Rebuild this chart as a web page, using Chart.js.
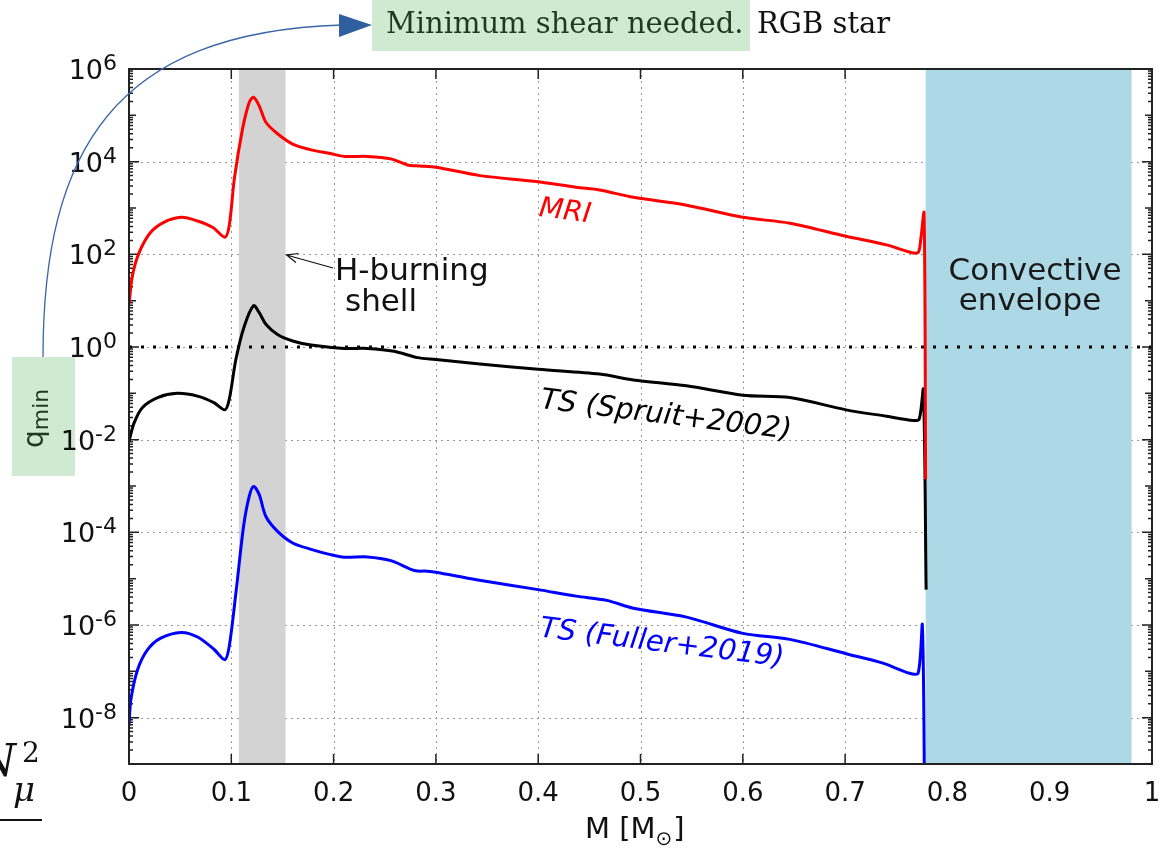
<!DOCTYPE html>
<html lang="en">
<head>
<meta charset="UTF-8" />
<title>Minimum shear needed - RGB star</title>
<script src="https://cdn.jsdelivr.net/npm/chart.js"></script>
<style>
  body { margin: 0; background: #fff; }
  canvas { display: block; }
</style>
</head>
<body>
<canvas id="chart" width="1168" height="850"></canvas>
<script>
// mass coordinate M [Msun] and q for each instability
const mriM = [0, 0.0034, 0.01, 0.021, 0.034, 0.051, 0.067, 0.082, 0.0937, 0.098, 0.103, 0.111, 0.1175, 0.1218,
  0.1273, 0.1338, 0.1452, 0.160, 0.178, 0.197, 0.2105, 0.233, 0.256, 0.272, 0.284, 0.300, 0.343, 0.400, 0.437,
  0.460, 0.493, 0.545, 0.600, 0.646, 0.701, 0.7405, 0.763, 0.7714, 0.774, 0.7772, 0.7787];
const mriQ = [8.3, 35, 110, 295, 490, 630, 525, 380, 235, 420, 4300, 5.1e4, 1.9e5, 2.45e5,
  1.6e5, 7.1e4, 4.0e4, 2.4e4, 1.8e4, 1.5e4, 1.3e4, 1.3e4, 1.15e4, 8500, 8100, 7600, 5000, 3700, 2800,
  2450, 1700, 1150, 630, 470, 245, 160, 112, 110, 215, 780, 1.4e-3];

const spruitM = [0, 0.005, 0.013, 0.028, 0.047, 0.067, 0.083, 0.0937, 0.098, 0.1045, 0.1127, 0.1218, 0.1273,
  0.1338, 0.1452, 0.160, 0.178, 0.2105, 0.233, 0.259, 0.282, 0.300, 0.343, 0.400, 0.460, 0.493, 0.545,
  0.600, 0.646, 0.701, 0.7405, 0.7665, 0.7725, 0.7765, 0.7792];
const spruitQ = [0.0093, 0.023, 0.049, 0.081, 0.1, 0.087, 0.063, 0.044, 0.074, 0.54, 2.8, 7.8, 5.5,
  3.1, 1.86, 1.35, 1.1, 0.93, 0.93, 0.81, 0.59, 0.54, 0.43, 0.33, 0.26, 0.195, 0.145,
  0.091, 0.081, 0.044, 0.032, 0.026, 0.028, 0.12, 5.8e-6];

const fullerM = [0, 0.0018, 0.0083, 0.018, 0.031, 0.051, 0.067, 0.083, 0.0937, 0.098, 0.1045, 0.112, 0.1175,
  0.1218, 0.1273, 0.1338, 0.1452, 0.160, 0.178, 0.197, 0.2105, 0.233, 0.256, 0.279, 0.292, 0.300, 0.3396,
  0.400, 0.437, 0.467, 0.493, 0.545, 0.600, 0.646, 0.701, 0.737, 0.763, 0.7714, 0.7755, 0.7778];
const fullerQ = [6.9e-9, 2.4e-8, 1.07e-7, 2.9e-7, 5.2e-7, 6.9e-7, 5.5e-7, 3.0e-7, 1.78e-7, 3.5e-7, 4.9e-6, 1.35e-4, 6.0e-4,
  9.8e-4, 6.5e-4, 2.2e-4, 1.05e-4, 5.9e-5, 4.3e-5, 3.3e-5, 2.9e-5, 2.95e-5, 2.45e-5, 1.5e-5, 1.45e-5, 1.38e-5, 9.5e-6,
  5.8e-6, 4.2e-6, 3.4e-6, 2.3e-6, 1.48e-6, 6.6e-7, 4.9e-7, 2.4e-7, 1.5e-7, 9.1e-8, 9.1e-8, 1.0e-6, 1e-10];

const qminM = [0, 1];
const qminQ = [1, 1];

const xTicks = [0, 0.1, 0.2, 0.3, 0.4, 0.5, 0.6, 0.7, 0.8, 0.9, 1];
const xTickLabels = ['0', '0.1', '0.2', '0.3', '0.4', '0.5', '0.6', '0.7', '0.8', '0.9', '1'];
const yExponents = [-8, -6, -4, -2, 0, 2, 4, 6];
const shellBand = [0.1074, 0.153];
const envelopeBand = [0.7787, 0.980];

function pts(xs, ys) {
  return xs.map((x, i) => ({ x: x, y: ys[i] }));
}

const SANS = '"DejaVu Sans", sans-serif';
const SERIF = '"DejaVu Serif", serif';
const GREEN_BOX = '#d0ead2';
const GREEN_TEXT = '#1d3b1f';

function rotText(ctx, text, cx, cy, deg, font, color) {
  ctx.save();
  ctx.translate(cx, cy);
  ctx.rotate(deg * Math.PI / 180);
  ctx.font = font;
  ctx.fillStyle = color;
  ctx.textAlign = 'center';
  ctx.textBaseline = 'middle';
  ctx.fillText(text, 0, 0);
  ctx.restore();
}

const decor = {
  id: 'decor',
  beforeDraw(chart) {
    // green boxes sit under everything else
    const ctx = chart.ctx;
    ctx.save();
    ctx.fillStyle = GREEN_BOX;
    ctx.fillRect(372, 0, 378, 51);
    ctx.fillRect(12, 357, 63, 119);
    ctx.restore();
  },
  beforeDatasetsDraw(chart) {
    const { ctx, chartArea: a, scales: { x, y } } = chart;
    ctx.save();
    // dotted grid
    ctx.strokeStyle = '#999';
    ctx.lineWidth = 1;
    ctx.setLineDash([2, 4]);
    xTicks.slice(1, -1).forEach(t => {
      const px = Math.round(x.getPixelForValue(t)) + 0.5;
      ctx.beginPath(); ctx.moveTo(px, a.top); ctx.lineTo(px, a.bottom); ctx.stroke();
    });
    yExponents.slice(0, -1).forEach(e => {
      const py = Math.round(y.getPixelForValue(Math.pow(10, e))) + 0.5;
      ctx.beginPath(); ctx.moveTo(a.left, py); ctx.lineTo(a.right, py); ctx.stroke();
    });
    ctx.setLineDash([]);
    // inward tick marks
    ctx.strokeStyle = '#222';
    ctx.lineWidth = 1.5;
    xTicks.forEach(t => {
      const px = x.getPixelForValue(t);
      ctx.beginPath();
      ctx.moveTo(px, a.bottom); ctx.lineTo(px, a.bottom - 10);
      ctx.moveTo(px, a.top); ctx.lineTo(px, a.top + 10);
      ctx.stroke();
    });
    for (let e = -9; e <= 5; e++) {
      for (let k = 1; k <= 9; k++) {
        const v = k * Math.pow(10, e);
        if (v < 1e-9 || v > 1e6) continue;
        const py = y.getPixelForValue(v);
        const len = k === 1 ? (e % 2 === 0 ? 10 : 7) : 4;
        ctx.beginPath();
        ctx.moveTo(a.left, py); ctx.lineTo(a.left + len, py);
        ctx.moveTo(a.right, py); ctx.lineTo(a.right - len, py);
        ctx.stroke();
      }
    }
    // shaded regions
    ctx.fillStyle = '#d3d3d3';
    const s0 = x.getPixelForValue(shellBand[0]), s1 = x.getPixelForValue(shellBand[1]);
    ctx.fillRect(s0, a.top, s1 - s0, a.bottom - a.top);
    ctx.fillStyle = '#add8e6';
    const e0 = x.getPixelForValue(envelopeBand[0]), e1 = x.getPixelForValue(envelopeBand[1]);
    ctx.fillRect(e0, a.top, e1 - e0, a.bottom - a.top);
    ctx.restore();
  },
  afterDatasetsDraw(chart) {
    const { ctx, chartArea: a, scales: { x, y } } = chart;
    ctx.save();
    // frame
    ctx.strokeStyle = '#222';
    ctx.lineWidth = 2;
    ctx.strokeRect(a.left, a.top, a.right - a.left, a.bottom - a.top);

    // y tick labels 10^n
    ctx.fillStyle = '#111';
    ctx.textBaseline = 'alphabetic';
    ctx.textAlign = 'right';
    yExponents.forEach(e => {
      const py = y.getPixelForValue(Math.pow(10, e));
      ctx.font = '22px ' + SANS;
      const sup = String(e);
      ctx.fillText(sup, 117, py + 1);
      const w = ctx.measureText(sup).width;
      ctx.font = '27px ' + SANS;
      ctx.fillText('10', 117 - w, py + 10);
    });
    // x tick labels
    ctx.textAlign = 'center';
    ctx.font = '26px ' + SANS;
    xTicks.forEach((t, i) => {
      ctx.fillText(xTickLabels[i], x.getPixelForValue(t), a.bottom + 37);
    });
    // x title M [M_sun]
    ctx.textAlign = 'left';
    ctx.font = '29px ' + SANS;
    let tx = 585;
    ctx.fillText('M [M', tx, 838);
    tx += ctx.measureText('M [M').width;
    ctx.font = '20px ' + SANS;
    ctx.fillText('\u2299', tx, 845);
    tx += ctx.measureText('\u2299').width + 1;
    ctx.font = '29px ' + SANS;
    ctx.fillText(']', tx, 838);

    // curve labels
    rotText(ctx, 'MRI', 565, 212, 7, 'italic 28px ' + SANS, '#ff0000');
    rotText(ctx, 'TS (Spruit+2002)', 666, 416, 7, 'italic 29px ' + SANS, '#000');
    rotText(ctx, 'TS (Fuller+2019)', 662, 644, 7, 'italic 29px ' + SANS, '#0000ff');

    // H-burning shell note with arrow
    ctx.fillStyle = '#111';
    ctx.font = '31px ' + SANS;
    ctx.textAlign = 'left';
    ctx.fillText('H-burning', 335, 280);
    ctx.fillText('shell', 345, 311);
    ctx.strokeStyle = '#111';
    ctx.lineWidth = 1.2;
    const tipX = x.getPixelForValue(shellBand[1]) + 1, tipY = 255;
    const ang = Math.atan2(tipY - 268, tipX - 333);
    ctx.beginPath();
    ctx.moveTo(333, 268); ctx.lineTo(tipX, tipY);
    ctx.moveTo(tipX - 12 * Math.cos(ang - 0.4), tipY - 12 * Math.sin(ang - 0.4));
    ctx.lineTo(tipX, tipY);
    ctx.lineTo(tipX - 12 * Math.cos(ang + 0.4), tipY - 12 * Math.sin(ang + 0.4));
    ctx.stroke();

    // convective envelope
    ctx.textAlign = 'center';
    ctx.fillStyle = '#1a1a1a';
    ctx.fillText('Convective', 1035, 280);
    ctx.fillText('envelope', 1030, 310);
    ctx.restore();
  },
  afterDraw(chart) {
    const ctx = chart.ctx;
    ctx.save();
    ctx.font = '29px ' + SERIF;
    ctx.textAlign = 'left';
    ctx.textBaseline = 'alphabetic';
    ctx.fillStyle = GREEN_TEXT;
    ctx.fillText('Minimum shear needed.', 386, 33);
    ctx.fillStyle = '#111';
    ctx.fillText('RGB star', 757, 33);

    // q_min, rotated
    ctx.save();
    ctx.translate(43, 448);
    ctx.rotate(-Math.PI / 2);
    ctx.fillStyle = GREEN_TEXT;
    ctx.font = '28px ' + SANS;
    ctx.fillText('q', 0, 0);
    const qw = ctx.measureText('q').width;
    ctx.font = '22px ' + SANS;
    ctx.fillText('min', qw, 5);
    ctx.restore();

    // curved arrow from q_min to the title box
    ctx.strokeStyle = '#3a67a8';
    ctx.lineWidth = 1.3;
    ctx.beginPath();
    ctx.moveTo(43, 357);
    ctx.bezierCurveTo(43, 150, 115, 32, 342, 25);
    ctx.stroke();
    ctx.fillStyle = '#2f5f9e';
    ctx.beginPath();
    ctx.moveTo(372, 25); ctx.lineTo(339, 14); ctx.lineTo(339, 37); ctx.closePath();
    ctx.fill();

    // N_mu^2 fragment at the bottom left
    ctx.fillStyle = '#111';
    ctx.textAlign = 'right';
    ctx.font = 'italic 44px ' + SERIF;
    ctx.fillText('N', 16, 776);
    ctx.textAlign = 'left';
    ctx.font = '28px ' + SERIF;
    ctx.fillText('2', 22, 762);
    ctx.font = 'italic 34px ' + SERIF;
    ctx.fillText('\u03bc', 13, 801);
    ctx.fillRect(0, 819, 42, 2);
    ctx.restore();
  }
};

new Chart(document.getElementById('chart').getContext('2d'), {
  type: 'line',
  data: {
    datasets: [
      { label: 'MRI', data: pts(mriM, mriQ), borderColor: '#ff0000', order: 0 },
      { label: 'TS (Spruit+2002)', data: pts(spruitM, spruitQ), borderColor: '#000000', order: 1 },
      { label: 'TS (Fuller+2019)', data: pts(fullerM, fullerQ), borderColor: '#0000ff', order: 2 },
      { label: 'q_min', data: pts(qminM, qminQ), borderColor: '#000000', borderDash: [3, 9],
        borderCapStyle: 'butt', tension: 0, order: 3 }
    ]
  },
  options: {
    responsive: false,
    animation: false,
    layout: { padding: { left: 129, right: 16, top: 69, bottom: 86 } },
    elements: {
      line: { borderWidth: 3, tension: 0.3, fill: false },
      point: { radius: 0 }
    },
    plugins: { legend: { display: false }, tooltip: { enabled: false } },
    scales: {
      x: { type: 'linear', min: 0, max: 1, display: false },
      y: { type: 'logarithmic', min: 1e-9, max: 1e6, display: false }
    }
  },
  plugins: [decor]
});
</script>
</body>
</html>
